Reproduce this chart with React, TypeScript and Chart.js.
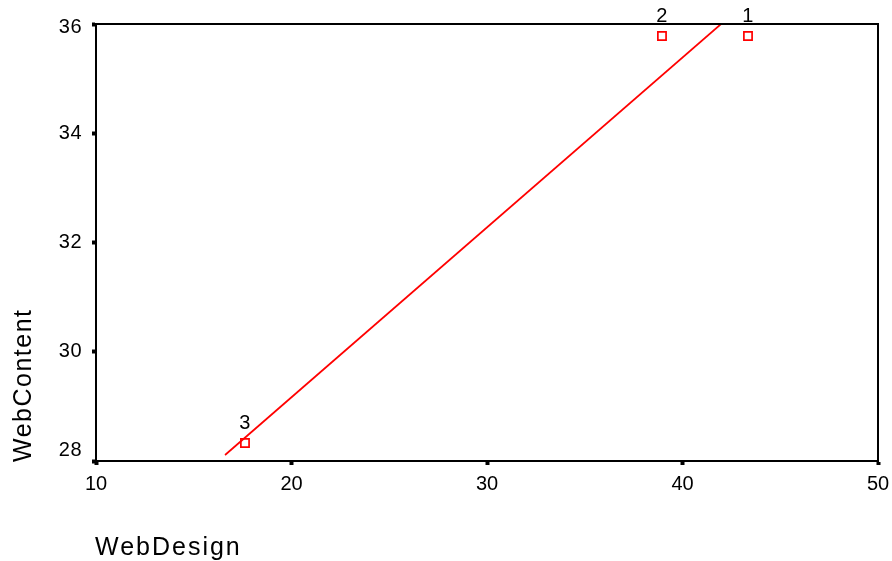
import { useEffect, useRef } from "react";
import { Chart, registerables } from "chart.js";

Chart.register(...registerables);

const webDesign = [43.35, 38.95, 17.62];
const webContent = [35.78, 35.78, 28.33];
const caseLabels = ["1", "2", "3"];
const fitX = [16.6, 41.97];
const fitY = [28.11, 36];
const xTicks = [10, 20, 30, 40, 50];
const yTicks = [28, 30, 32, 34, 36];
const xTitle = "WebDesign";
const yTitle = "WebContent";

const FONT = "'Liberation Sans', Arial, Helvetica, sans-serif";

const overlay = {
  id: "overlay",
  afterDatasetsDraw(chart: any) {
    const { ctx, chartArea } = chart;
    ctx.save();
    ctx.strokeStyle = "#000";
    ctx.lineWidth = 2;
    ctx.strokeRect(chartArea.left, chartArea.top, chartArea.right - chartArea.left, chartArea.bottom - chartArea.top);
    // y tick labels (SPSS keeps the end labels inside the frame)
    const ys = chart.scales.y;
    ctx.fillStyle = "#000";
    ctx.font = `20px ${FONT}`;
    (ctx as any).letterSpacing = "0.5px";
    ctx.textAlign = "right";
    ctx.textBaseline = "middle";
    yTicks.forEach((v) => {
      let py = ys.getPixelForValue(v);
      py = Math.min(Math.max(py, chartArea.top + 3), chartArea.bottom - 11);
      ctx.fillText(String(v), chartArea.left - 14, py);
    });
    const meta = chart.getDatasetMeta(1);
    ctx.textAlign = "center";
    ctx.textBaseline = "alphabetic";
    meta.data.forEach((pt: any, i: number) => {
      ctx.fillText(caseLabels[i], pt.x, pt.y - 14);
    });
    ctx.font = `25px ${FONT}`;
    (ctx as any).letterSpacing = "2px";
    ctx.textAlign = "left";
    ctx.fillText(xTitle, 95, 555);
    (ctx as any).letterSpacing = "1.5px";
    ctx.translate(31, 462);
    ctx.rotate(-Math.PI / 2);
    ctx.fillText(yTitle, 0, 0);
    ctx.restore();
  },
};

export default function App() {
  const ref = useRef<HTMLCanvasElement | null>(null);
  useEffect(() => {
    if (!ref.current) return;
    const chart = new Chart(ref.current, {
      type: "scatter",
      data: {
        datasets: [
          {
            type: "line",
            data: fitX.map((x, i) => ({ x, y: fitY[i] })),
            borderColor: "#ff0000",
            borderWidth: 1.7,
            pointRadius: 0,
            showLine: true,
            fill: false,
          } as any,
          {
            data: webDesign.map((x, i) => ({ x, y: webContent[i] })),
            pointStyle: "rect",
            pointRadius: 5.8,
            pointBorderWidth: 1.7,
            borderColor: "#ff0000",
            backgroundColor: "#ffffff",
            pointBackgroundColor: "#ffffff",
            pointBorderColor: "#ff0000",
          } as any,
        ],
      },
      options: {
        animation: false,
        responsive: false,
        devicePixelRatio: 1,
        layout: { padding: { top: 24, right: 14, left: 0, bottom: 0 } },
        plugins: { legend: { display: false }, tooltip: { enabled: false } },
        scales: {
          x: {
            type: "linear",
            min: 10,
            max: 50,
            afterBuildTicks: (s: any) => {
              s.ticks = xTicks.map((v) => ({ value: v }));
            },
            afterFit: (s: any) => {
              s.height = 100;
              s.paddingRight = 0;
              s.paddingLeft = 0;
            },
            grid: { drawOnChartArea: false, drawTicks: true, tickLength: 4, tickWidth: 4, tickColor: "#000" },
            border: { display: true, color: "#000", width: 2 },
            ticks: { color: "#000", font: { family: FONT, size: 20 }, padding: 7, maxRotation: 0, autoSkip: false },
          },
          y: {
            type: "linear",
            min: 28,
            max: 36,
            afterBuildTicks: (s: any) => {
              s.ticks = yTicks.map((v) => ({ value: v }));
            },
            afterFit: (s: any) => {
              s.width = 96;
              s.paddingTop = 0;
              s.paddingBottom = 0;
            },
            grid: { drawOnChartArea: false, drawTicks: true, tickLength: 4, tickWidth: 4, tickColor: "#000" },
            border: { display: true, color: "#000", width: 2 },
            ticks: { display: false },
          },
        },
      },
      plugins: [overlay],
    });
    return () => chart.destroy();
  }, []);
  return (
    <div style={{ position: "fixed", left: 0, top: 0, width: 892, height: 561, background: "#fff" }}>
      <canvas ref={ref} width={892} height={561} style={{ width: 892, height: 561, display: "block" }} />
    </div>
  );
}
